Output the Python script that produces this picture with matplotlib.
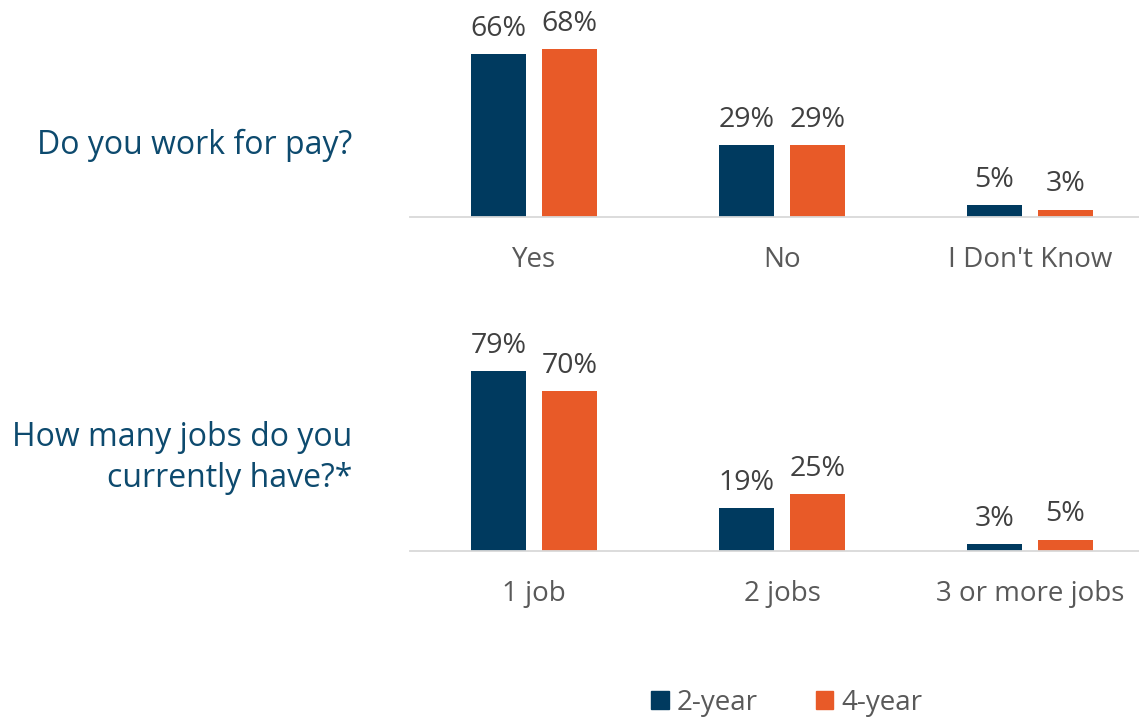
import matplotlib.pyplot as plt
from matplotlib.patches import Patch

plt.rcParams['font.family'] = ['Open Sans', 'DejaVu Sans']

series = ['2-year', '4-year']
navy = '#003A5F'
orange = '#E85A28'

work_cats = ['Yes', 'No', "I Don't Know"]
work_2yr = [66, 29, 5]
work_4yr = [68, 29, 3]

jobs_cats = ['1 job', '2 jobs', '3 or more jobs']
jobs_2yr = [79, 19, 3]
jobs_4yr = [70, 25, 5]

W, H = 1139, 717
fig = plt.figure(figsize=(W / 100, H / 100), dpi=100)


def panel(bottom_px, ymax, px_per_unit, cats, v2, v4):
    # three groups of 248px starting at x=410; the right end runs off the canvas
    ax = fig.add_axes([410 / W, (H - bottom_px) / H, 744 / W, ymax * px_per_unit / H])
    x = range(len(cats))
    w = 0.222
    off = 0.143
    b1 = ax.bar([i - off for i in x], v2, w, color=navy)
    b2 = ax.bar([i + off for i in x], v4, w, color=orange)
    for bars, vals in ((b1, v2), (b2, v4)):
        for r, v in zip(bars, vals):
            ax.annotate(f'{v}%', (r.get_x() + r.get_width() / 2, r.get_height()),
                        xytext=(0, 8), textcoords='offset points', ha='center', va='bottom',
                        fontsize=20.5, color='#404040')
    ax.set_xlim(-0.5, len(cats) - 0.5)
    ax.set_ylim(0, ymax)
    ax.set_xticks(list(x))
    ax.set_xticklabels(cats, fontsize=20, color='#595959')
    ax.tick_params(axis='x', length=0, pad=21)
    ax.set_yticks([])
    for s in ('top', 'right', 'left'):
        ax.spines[s].set_visible(False)
    ax.spines['bottom'].set_color('#D9D9D9')
    ax.spines['bottom'].set_linewidth(1.3)
    return ax


panel(217, 80, 2.47, work_cats, work_2yr, work_4yr)
panel(551, 90, 2.28, jobs_cats, jobs_2yr, jobs_4yr)

qcolor = '#0D4A6E'
fig.text(352 / W, 1 - 145 / H, 'Do you work for pay?', ha='right', va='center',
         fontsize=23, color=qcolor)
fig.text(352 / W, 1 - 458 / H, 'How many jobs do you\ncurrently have?*', ha='right', va='center',
         fontsize=23, color=qcolor, linespacing=1.35, multialignment='right')

handles = [Patch(color=navy), Patch(color=orange)]
fig.legend(handles, series, loc='center', bbox_to_anchor=(787 / W, 1 - 703 / H), ncol=2,
           frameon=False, fontsize=20, labelcolor='#595959', handlelength=0.62, handleheight=0.62,
           handletextpad=0.3, columnspacing=2.1)

fig.savefig('out.png', dpi=100)
